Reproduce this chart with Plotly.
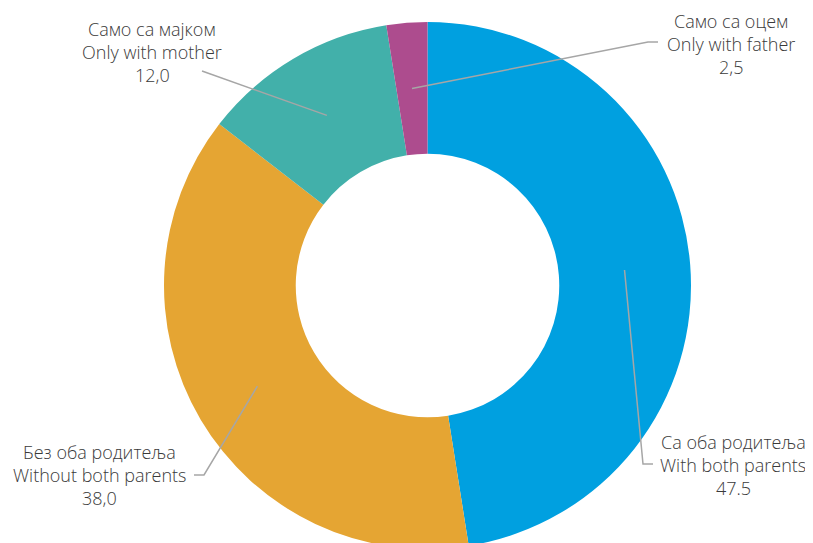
import math
import plotly.graph_objects as go

labels_sr = ["Са оба родитеља", "Без оба родитеља", "Само са мајком", "Само са оцем"]
labels_en = ["With both parents", "Without both parents", "Only with mother", "Only with father"]
value_text = ["47.5", "38,0", "12,0", "2,5"]
values = [47.5, 38.0, 12.0, 2.5]
colors = ["#00A0E0", "#E5A533", "#42B0AA", "#AD4C8E"]

W, H = 813, 543
OFF = 8  # page body margin offset
# pie geometry in screen pixels (layout)
cx, top, r_out = 427.5, 22, 263.5
cy = top + r_out
hole = 0.5
r_mid = r_out * (1 + hole) / 2

def px(x, y):
    return (x - OFF) / W, 1 - (y - OFF) / H

# label centers (screen pixels) and elbow points of leader lines
label_pos = [(733, 465), (99, 475), (152, 52), (731, 44)]
elbows = [[(643, 464), (653, 464)], [(204, 475), (194, 475)],
          [(202, 71)], [(648, 42), (658, 42)]]

x0, y1 = px(cx - r_out, top)
x1, y0 = px(cx + r_out, top + 2 * r_out)

fig = go.Figure(go.Pie(
    values=values,
    labels=labels_en,
    marker=dict(colors=colors, line=dict(width=0)),
    hole=hole,
    sort=False,
    direction="clockwise",
    rotation=0,
    textinfo="none",
    hoverinfo="label+value",
    showlegend=False,
    domain=dict(x=[x0, x1], y=[max(0, y0), y1]),
))

total = sum(values)
cum = 0
for i, v in enumerate(values):
    mid = (cum + v / 2) / total * 2 * math.pi
    cum += v
    sx = cx + r_mid * math.sin(mid)
    sy = cy - r_mid * math.cos(mid)
    pts = [(sx, sy)] + elbows[i]
    path = "M " + " L ".join(f"{px(x, y)[0]},{px(x, y)[1]}" for x, y in pts)
    fig.add_shape(type="path", path=path, xref="paper", yref="paper",
                  line=dict(color="#A6A6A6", width=1.5))
    lx, ly = label_pos[i]
    lines = [labels_sr[i], labels_en[i], value_text[i]]
    for k, t in enumerate(lines):
        x, y = px(lx, ly + (k - 1) * 23)
        fig.add_annotation(x=x, y=y, xref="paper", yref="paper", text=t,
                           showarrow=False, xanchor="center", yanchor="middle",
                           font=dict(family="Open Sans", size=18, color="#3A3A3A", weight=300))

fig.update_layout(width=W, height=H, margin=dict(l=0, r=0, t=0, b=0),
                  paper_bgcolor="white", plot_bgcolor="white")
fig.write_html("out.html")
